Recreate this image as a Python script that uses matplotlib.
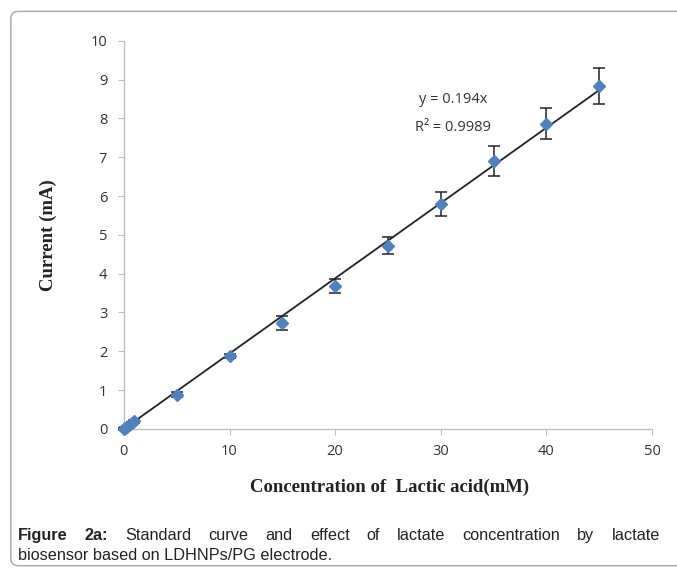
import numpy as np
import matplotlib.pyplot as plt
from matplotlib.patches import FancyBboxPatch

# 数据：浓度 (mM)、电流 (mA)、误差
conc = [0, 0.1, 0.25, 0.5, 0.75, 1.0, 5, 10, 15, 20, 25, 30, 35, 40, 45]
current = [0.0, 0.02, 0.05, 0.09, 0.14, 0.19, 0.88, 1.88, 2.73, 3.67, 4.72, 5.80, 6.90, 7.87, 8.84]
err = [0.02, 0.02, 0.02, 0.03, 0.03, 0.04, 0.06, 0.06, 0.17, 0.18, 0.22, 0.31, 0.38, 0.40, 0.46]
slope = 0.194
r2 = 0.9989
x_ticks = [0, 10, 20, 30, 40, 50]
y_ticks = list(range(0, 11))

fig = plt.figure(figsize=(6.77, 5.68), dpi=100)

# 外框（圆角）
box = FancyBboxPatch((0.016, 0.004), 1.2, 0.976, boxstyle="round,pad=0,rounding_size=0.012",
                     transform=fig.transFigure, facecolor='white', edgecolor='#b0b0b0',
                     linewidth=1.2, zorder=-5)
fig.patches.append(box)

ax = fig.add_axes([0.183, 0.245, 0.780, 0.683])
ax.set_zorder(2)
ax.set_facecolor('none')

# 趋势线
xl = np.array([0, 45.5])
ax.plot(xl, slope * xl, color='#222222', linewidth=1.3, zorder=2)

# 数据点 + 误差棒
eb = ax.errorbar(conc, current, yerr=err, fmt='D', color='#4F81BD', markersize=6.5,
                 ecolor='#222222', elinewidth=1.1, capsize=4, capthick=1.1, zorder=3)
for art in eb.get_children():
    art.set_clip_on(False)

ax.set_xlim(0, 50)
ax.set_ylim(0, 10)
ax.set_xticks(x_ticks)
ax.set_yticks(y_ticks)
for s in ['top', 'right']:
    ax.spines[s].set_visible(False)
for s in ['left', 'bottom']:
    ax.spines[s].set_color('#bfbfbf')
    ax.spines[s].set_linewidth(1.0)
ax.tick_params(colors='#bfbfbf', length=4, labelcolor='#333333', labelsize=10.5)
for lab in ax.get_xticklabels() + ax.get_yticklabels():
    lab.set_family('Open Sans')
ax.tick_params(axis='x', pad=7)
ax.tick_params(axis='y', pad=8)

ax.text(31.2, 8.5, f'y = {slope}x', ha='center', va='center', fontsize=10.5,
        family='Open Sans', color='#333333')
ax.text(31.2, 7.77, f'R² = {r2}', ha='center', va='center', fontsize=10.5,
        family='Open Sans', color='#333333')

fig.text(0.072, 0.586, 'Current (mA)', rotation=90, ha='center', va='center',
         fontsize=13.5, fontweight='bold', family='Liberation Serif', color='#222222')
fig.text(0.575, 0.142, 'Concentration of  Lactic acid(mM)', ha='center', va='center',
         fontsize=13.5, fontweight='bold', family='Liberation Serif', color='#222222')

# 图注（两端对齐的第一行）
line1 = ['Figure', '2a:', 'Standard', 'curve', 'and', 'effect', 'of', 'lactate',
         'concentration', 'by', 'lactate']
x_left, x_right = 18, 660
r = fig.canvas.get_renderer()
texts = []
for i, w in enumerate(line1):
    t = fig.text(0, 0, w, fontsize=11.7, family='Liberation Sans',
                 fontweight='bold' if i < 2 else 'normal', color='#222222')
    texts.append(t)
widths = [t.get_window_extent(r).width for t in texts]
gap = (x_right - x_left - sum(widths)) / (len(texts) - 1)
xpos = x_left
for t, w in zip(texts, widths):
    t.set_position((xpos / 677, 1 - 540 / 568))
    xpos += w + gap
fig.text(18 / 677, 1 - 560 / 568, 'biosensor based on LDHNPs/PG electrode.',
         fontsize=11.7, family='Liberation Sans', color='#222222')

fig.savefig('out.png', dpi=100)
